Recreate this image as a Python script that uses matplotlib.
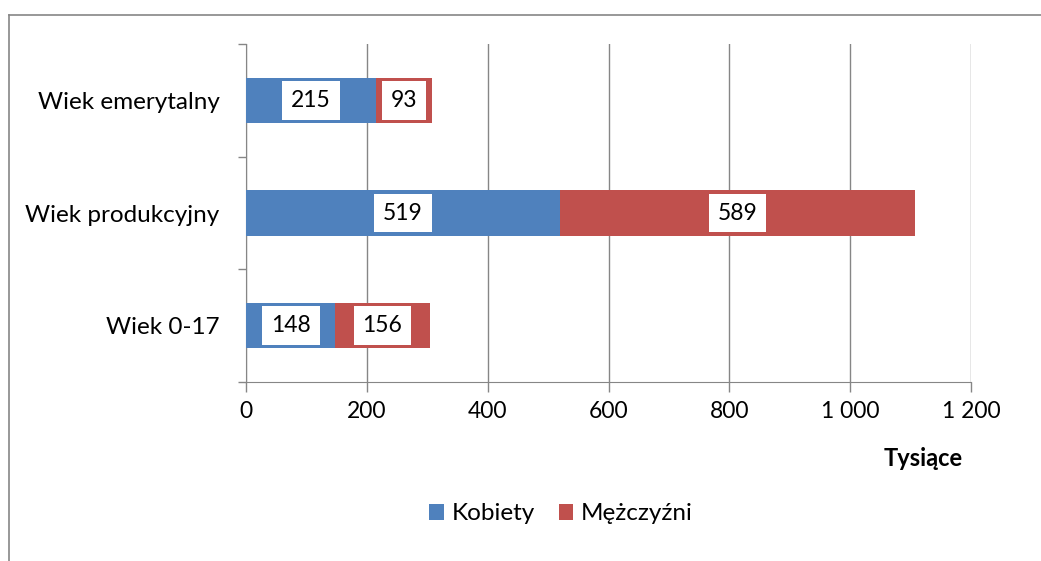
import matplotlib.pyplot as plt
from matplotlib.lines import Line2D
from matplotlib.ticker import FuncFormatter

plt.rcParams['font.family'] = ['Lato', 'DejaVu Sans']

categories = ['Wiek 0-17', 'Wiek produkcyjny', 'Wiek emerytalny']
kobiety = [148, 519, 215]
mezczyzni = [156, 589, 93]
series_names = ['Kobiety', 'Mężczyźni']
colors = ['#4F81BD', '#C0504D']

fig = plt.figure(figsize=(10.41, 5.61), dpi=100)
ax = fig.add_axes([246 / 1041, 1 - 382 / 561, 725 / 1041, 338 / 561])

y = range(len(categories))
b1 = ax.barh(y, kobiety, height=0.4, color=colors[0], label=series_names[0], zorder=3)
b2 = ax.barh(y, mezczyzni, height=0.4, left=kobiety, color=colors[1], label=series_names[1], zorder=3)

for bars in (b1, b2):
    for r in bars:
        v = r.get_width()
        ax.text(r.get_x() + v / 2, r.get_y() + r.get_height() / 2, '%d' % v,
                ha='center', va='center', fontsize=16.5, zorder=4,
                bbox=dict(facecolor='white', edgecolor='none', pad=6.5))

ax.set_xlim(0, 1200)
ax.set_ylim(-0.5, 2.5)
ax.set_xticks(range(0, 1201, 200))
ax.xaxis.set_major_formatter(FuncFormatter(lambda v, p: format(int(v), ',').replace(',', ' ')))
ax.set_yticks([-0.5, 0.5, 1.5, 2.5])
ax.set_yticklabels([])
ax.set_yticks(list(y), minor=True)
ax.set_yticklabels(categories, minor=True)
ax.tick_params(axis='y', which='minor', length=0, pad=19, labelsize=17.5)
ax.tick_params(axis='y', which='major', length=6, color='#868686', width=1)
ax.tick_params(axis='x', length=7, color='#868686', width=1, labelsize=16.5, pad=7)
ax.grid(axis='x', color='#868686', linewidth=1, zorder=0)
for s in ['top', 'right']:
    ax.spines[s].set_visible(False)
for s in ['left', 'bottom']:
    ax.spines[s].set_color('#868686')

fig.text(923 / 1041, 1 - 458 / 561, 'Tysiące', ha='center', va='center', fontsize=17, fontweight='bold')

ax.legend(loc='center', bbox_to_anchor=(561 / 1041, 1 - 514 / 561), bbox_transform=fig.transFigure,
          ncol=2, frameon=False, fontsize=17.5, handlelength=0.6, handleheight=0.6,
          handletextpad=0.3, columnspacing=1.0)

# chart border (cropped on right and bottom)
fig.add_artist(Line2D([9 / 1041, 1], [1 - 15 / 561, 1 - 15 / 561], transform=fig.transFigure, color='#868686', lw=1.2))
fig.add_artist(Line2D([9 / 1041, 9 / 1041], [0, 1 - 15 / 561], transform=fig.transFigure, color='#868686', lw=1.2))

fig.savefig('out.png', dpi=100)
